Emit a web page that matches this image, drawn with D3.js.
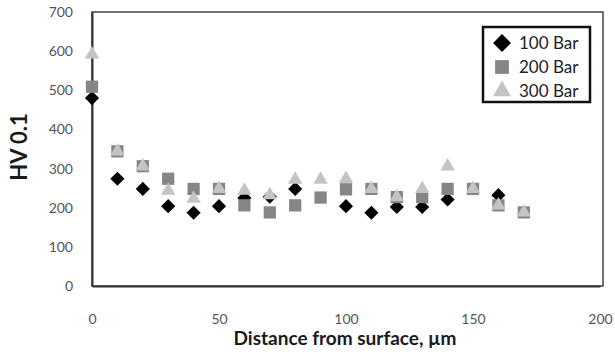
<!DOCTYPE html>
<html>
<head>
<meta charset="utf-8">
<script src="https://cdn.jsdelivr.net/npm/d3@7"></script>
<style>
  body { margin: 0; background: #fff; }
  svg text { font-family: Lato, "Open Sans", sans-serif; }
</style>
</head>
<body>
<div id="grafiek"></div>
<script>
// afstand tot oppervlak (µm)
const afstand100 = [0, 10, 20, 30, 40, 50, 60, 70, 80, 100, 110, 120, 130, 140, 160];
const hv100 = [480, 274, 248, 204, 187, 204, 225, 228, 248, 204, 187, 202, 202, 221, 232];

const afstand200 = [0, 10, 20, 30, 40, 50, 60, 70, 80, 90, 100, 110, 120, 130, 140, 150, 160, 170];
const hv200 = [509, 344, 306, 274, 248, 248, 206, 188, 206, 226, 247, 248, 227, 227, 248, 248, 206, 188];

const afstand300 = [0, 10, 20, 30, 40, 50, 60, 70, 80, 90, 100, 110, 120, 130, 140, 150, 160, 170];
const hv300 = [592, 344, 306, 244, 223, 248, 244, 232, 272, 272, 274, 248, 227, 248, 306, 248, 206, 188];

const reeksNamen = ["100 Bar", "200 Bar", "300 Bar"];
const xTicks = [0, 50, 100, 150, 200];
const yTicks = [0, 100, 200, 300, 400, 500, 600, 700];

// ruit = gedraaid vierkant
const ruit = {
  draw(context, size) {
    const h = Math.sqrt(size / 2);
    context.moveTo(0, -h);
    context.lineTo(h, 0);
    context.lineTo(0, h);
    context.lineTo(-h, 0);
    context.closePath();
  }
};

const reeksen = [
  { naam: reeksNamen[0], x: afstand100, y: hv100, symbool: ruit, kleur: "#000000", grootte: 100, legGrootte: 160 },
  { naam: reeksNamen[1], x: afstand200, y: hv200, symbool: d3.symbolSquare, kleur: "#858585", grootte: 150, legGrootte: 190 },
  { naam: reeksNamen[2], x: afstand300, y: hv300, symbool: d3.symbolTriangle, kleur: "#c4c4c4", grootte: 90, legGrootte: 140 }
];

const width = 615, height = 362;
const links = 92, rechts = 600, boven = 12, onder = 286;

const x = d3.scaleLinear().domain([0, 200]).range([links, rechts]);
const y = d3.scaleLinear().domain([0, 700]).range([onder, boven]);

const svg = d3.select("#grafiek")
  .append("svg")
  .attr("width", width)
  .attr("height", height);

// kader van plotgebied
svg.append("rect")
  .attr("x", links)
  .attr("y", boven)
  .attr("width", 603 - links)
  .attr("height", onder - boven)
  .attr("fill", "none")
  .attr("stroke", "#444")
  .attr("stroke-width", 1.5);

// X-AS
svg.append("g")
  .attr("transform", `translate(0,${onder})`)
  .call(d3.axisBottom(x).tickValues(xTicks).tickSize(0).tickPadding(28))
  .call(g => g.select(".domain").attr("stroke", "#333").attr("stroke-width", 2))
  .call(g => g.selectAll("text").attr("font-size", 14).attr("fill", "#555"));

// Y-AS
svg.append("g")
  .attr("transform", `translate(${links},0)`)
  .call(d3.axisLeft(y).tickValues(yTicks).tickSize(0).tickPadding(19))
  .call(g => g.select(".domain").attr("stroke", "#333").attr("stroke-width", 2))
  .call(g => g.selectAll("text").attr("font-size", 14).attr("fill", "#555"));

// astitels
svg.append("text")
  .attr("x", 345)
  .attr("y", 345)
  .attr("text-anchor", "middle")
  .attr("font-size", 19)
  .attr("font-weight", "bold")
  .attr("fill", "#1a1a1a")
  .text("Distance from surface, µm");

svg.append("text")
  .attr("transform", `translate(27,147) rotate(-90)`)
  .attr("text-anchor", "middle")
  .attr("font-size", 22)
  .attr("font-weight", "bold")
  .attr("fill", "#1a1a1a")
  .text("HV 0.1");

// punten
reeksen.forEach(r => {
  const punten = r.x.map((d, i) => ({ afstand: d, hv: r.y[i] }));
  svg.append("g")
    .selectAll("path")
    .data(punten)
    .join("path")
    .attr("transform", d => `translate(${x(d.afstand)},${y(d.hv)})`)
    .attr("d", d3.symbol().type(r.symbool).size(r.grootte))
    .attr("fill", r.kleur);
});

// legenda
const legenda = svg.append("g").attr("transform", "translate(483,27)");
legenda.append("rect")
  .attr("width", 107)
  .attr("height", 75)
  .attr("fill", "#fff")
  .attr("stroke", "#111")
  .attr("stroke-width", 2.5);

reeksen.forEach((r, i) => {
  const rij = legenda.append("g").attr("transform", `translate(0,${16 + i * 24})`);
  rij.append("path")
    .attr("transform", "translate(19,0)")
    .attr("d", d3.symbol().type(r.symbool).size(r.legGrootte))
    .attr("fill", r.kleur);
  rij.append("text")
    .attr("x", 36)
    .attr("y", 6)
    .attr("font-size", 17)
    .attr("fill", "#222")
    .text(r.naam);
});
</script>
</body>
</html>
